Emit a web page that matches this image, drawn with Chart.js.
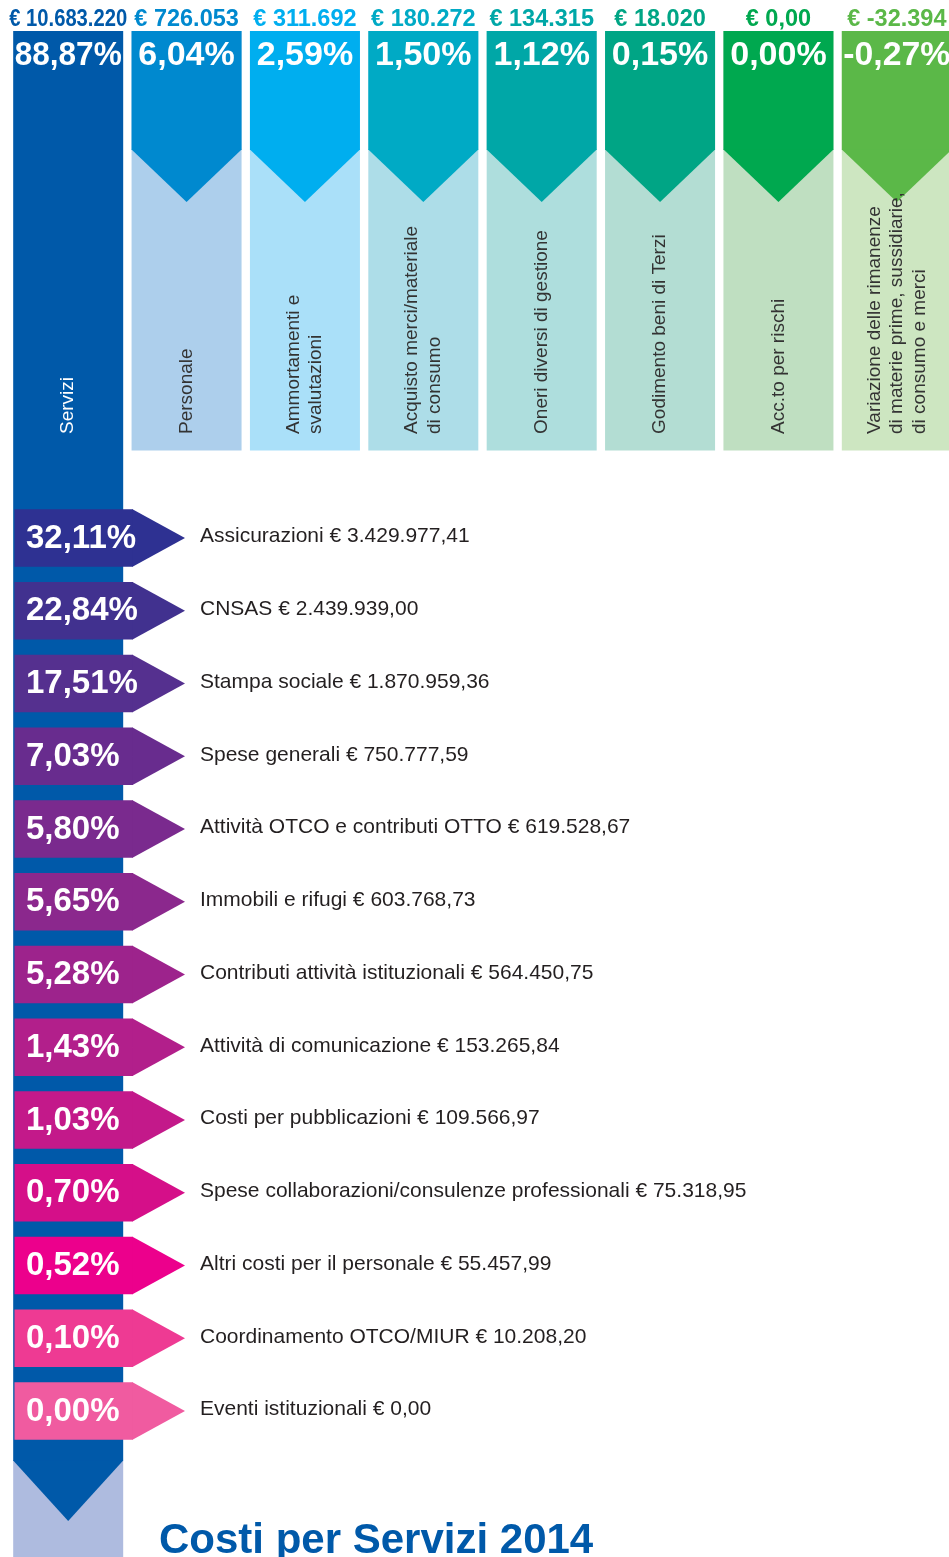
<!DOCTYPE html>
<html lang="it">
<head>
<meta charset="utf-8">
<title>Costi per Servizi 2014</title>
<script src="https://cdn.jsdelivr.net/npm/chart.js@4.4.1/dist/chart.umd.min.js"></script>
<style>
  html, body { margin: 0; padding: 0; background: #ffffff; }
  body { width: 949px; height: 1557px; overflow: hidden; position: relative; }
  #grafico { position: absolute; left: 0; top: 0; }
</style>
</head>
<body>
<canvas id="grafico" width="956" height="1557"></canvas>
<script>
// ---------- DATI ----------
const colonneEtichette = [
  "Servizi",
  "Personale",
  ["Ammortamenti e", "svalutazioni"],
  ["Acquisto merci/materiale", "di consumo"],
  "Oneri diversi di gestione",
  "Godimento beni di Terzi",
  "Acc.to per rischi",
  ["Variazione delle rimanenze", "di materie prime, sussidiarie,", "di consumo e merci"]
];
const colonneImporti = [10683220, 726053, 311692, 180272, 134315, 18020, 0, -32394];
const colonnePercentuali = [88.87, 6.04, 2.59, 1.50, 1.12, 0.15, 0.00, -0.27];

const serviziVoci = [
  "Assicurazioni",
  "CNSAS",
  "Stampa sociale",
  "Spese generali",
  "Attività OTCO e contributi OTTO",
  "Immobili e rifugi",
  "Contributi attività istituzionali",
  "Attività di comunicazione",
  "Costi per pubblicazioni",
  "Spese collaborazioni/consulenze professionali",
  "Altri costi per il personale",
  "Coordinamento OTCO/MIUR",
  "Eventi istituzionali"
];
const serviziImporti = [3429977.41, 2439939.00, 1870959.36, 750777.59, 619528.67, 603768.73,
  564450.75, 153265.84, 109566.97, 75318.95, 55457.99, 10208.20, 0];
const serviziPercentuali = [32.11, 22.84, 17.51, 7.03, 5.80, 5.65, 5.28, 1.43, 1.03, 0.70, 0.52, 0.10, 0.00];

const titolo = "Costi per Servizi 2014";

// ---------- STILE ----------
const coloriScuri = ['#0059A9', '#0089CF', '#00AEEF', '#00AAC5', '#00A7A7', '#00A585', '#00A84F', '#5BB848'];
const coloriChiari = ['#AEBBDF', '#ADCFEC', '#AAE0F9', '#ADDDE8', '#AEDEDD', '#B3DDD3', '#BFDFC1', '#CDE6C1'];
const coloriFrecce = ['#2E3192', '#41318F', '#55308F', '#682C8E', '#7A2A8E', '#8B288D', '#9D238C',
  '#B21F8B', '#C3198A', '#D50F89', '#EC008C', '#EE3A93', '#F05BA0'];
const FONT = '"Liberation Sans", Arial, Helvetica, sans-serif';

// layout in scale units (rows on y, columns on x)
const L = {
  colTop: -6.969, headEnd: -5.333, topTip: -4.619, colBottom: -1.203,
  labelStart: -1.43, amountBase: -7.038, pctBase: -6.502,
  servDarkEnd: 12.687, servTip: 13.512, servBottom: 14.2, titleBase: 13.952,
  rowLabelOff: 0.062, arrowPctOff: 0.131,
  arrowLeft: -0.4535, arrowRect: 0.5475, arrowTip: 0.9868,
  arrowPctX: -0.3564, rowLabelX: 1.1135, titleX: 0.7672
};

function fmtNum(v, dec) {
  const s = Math.abs(v).toFixed(dec);
  let [int, frac] = s.split('.');
  int = int.replace(/\B(?=(\d{3})+(?!\d))/g, '.');
  return (v < 0 ? '-' : '') + int + (frac ? ',' + frac : '');
}
const fmtEuroTop = v => '€ ' + (v === 0 ? '0,00' : fmtNum(v, 0));
const fmtEuro = v => '€ ' + fmtNum(v, 2);
const fmtPct = v => fmtNum(v, 2) + '%';

const infografica = {
  id: 'infografica',
  afterDatasetsDraw(chart) {
    const ctx = chart.ctx;
    const yv = chart.scales.yv, xa = chart.scales.xa, yr = chart.scales.yr, xc = chart.scales.xc;
    const Y = v => yv.getPixelForValue(v);
    ctx.save();

    // chevrons of the columns
    const metaT = chart.getDatasetMeta(0);
    metaT.data.forEach((bar, i) => {
      const p = bar.getProps(['x', 'width'], true);
      const y0 = Y(i === 0 ? L.servDarkEnd : L.headEnd);
      const y1 = Y(i === 0 ? L.servTip : L.topTip);
      ctx.fillStyle = coloriScuri[i];
      ctx.beginPath();
      ctx.moveTo(p.x - p.width / 2, y0 - 0.5);
      ctx.lineTo(p.x + p.width / 2, y0 - 0.5);
      ctx.lineTo(p.x, y1);
      ctx.closePath();
      ctx.fill();
    });

    // column texts
    const etich = xc.getLabels();
    metaT.data.forEach((bar, i) => {
      const p = bar.getProps(['x', 'width'], true);
      ctx.textAlign = 'center';
      ctx.textBaseline = 'alphabetic';
      ctx.fillStyle = coloriScuri[i];
      ctx.font = 'bold 23.5px ' + FONT;
      ctx.fillText(fmtEuroTop(colonneImporti[i]), p.x, Y(L.amountBase), p.width + 8);
      ctx.fillStyle = '#ffffff';
      ctx.font = 'bold 34px ' + FONT;
      ctx.fillText(fmtPct(colonnePercentuali[i]), p.x, Y(L.pctBase), p.width - 3);

      const lines = Array.isArray(etich[i]) ? etich[i] : [etich[i]];
      ctx.font = '19px ' + FONT;
      ctx.fillStyle = i === 0 ? '#ffffff' : '#333333';
      ctx.textAlign = 'left';
      ctx.textBaseline = 'middle';
      const gap = 22.5;
      lines.forEach((ln, k) => {
        const cx = p.x + (k - (lines.length - 1) / 2) * gap;
        ctx.save();
        ctx.translate(cx, Y(L.labelStart));
        ctx.rotate(-Math.PI / 2);
        ctx.fillText(ln, 0, 0);
        ctx.restore();
      });
    });

    // arrow tips and texts
    const metaF = chart.getDatasetMeta(2);
    const voci = yr.getLabels();
    const step = Math.abs(yr.getPixelForValue(1) - yr.getPixelForValue(0));
    metaF.data.forEach((bar, i) => {
      const p = bar.getProps(['x', 'y', 'height'], true);
      ctx.fillStyle = coloriFrecce[i];
      ctx.beginPath();
      ctx.moveTo(p.x - 0.5, p.y - p.height / 2);
      ctx.lineTo(xa.getPixelForValue(L.arrowTip), p.y);
      ctx.lineTo(p.x - 0.5, p.y + p.height / 2);
      ctx.closePath();
      ctx.fill();

      ctx.textAlign = 'left';
      ctx.textBaseline = 'alphabetic';
      ctx.fillStyle = '#ffffff';
      ctx.font = 'bold 33px ' + FONT;
      ctx.fillText(fmtPct(serviziPercentuali[i]), xa.getPixelForValue(L.arrowPctX), p.y + L.arrowPctOff * step);
      ctx.fillStyle = '#231F20';
      ctx.font = '21px ' + FONT;
      ctx.fillText(voci[i] + ' ' + fmtEuro(serviziImporti[i]), xa.getPixelForValue(L.rowLabelX), p.y + L.rowLabelOff * step);
    });

    // title
    ctx.fillStyle = '#0059A9';
    ctx.font = 'bold 42px ' + FONT;
    ctx.textAlign = 'left';
    ctx.textBaseline = 'alphabetic';
    ctx.fillText(titolo, xa.getPixelForValue(L.titleX), Y(L.titleBase));
    ctx.restore();
  }
};

const barCommon = { borderWidth: 0, grouped: false, clip: false, categoryPercentage: 1 };

new Chart(document.getElementById('grafico'), {
  type: 'bar',
  data: {
    datasets: [
      Object.assign({
        label: 'testata', indexAxis: 'x', xAxisID: 'xc', yAxisID: 'yv', order: 0,
        data: colonnePercentuali.map((_, i) => i === 0 ? [L.colTop, L.servDarkEnd] : [L.colTop, L.headEnd]),
        backgroundColor: coloriScuri, barPercentage: 0.9293
      }, barCommon),
      Object.assign({
        label: 'sfondo', indexAxis: 'x', xAxisID: 'xc', yAxisID: 'yv', order: 1,
        data: colonnePercentuali.map((_, i) => i === 0 ? [L.servDarkEnd, L.servBottom] : [L.colTop, L.colBottom]),
        backgroundColor: coloriChiari, barPercentage: 0.9293
      }, barCommon),
      Object.assign({
        label: 'frecce', indexAxis: 'y', xAxisID: 'xa', yAxisID: 'yr', order: -1,
        data: serviziPercentuali.map(() => [L.arrowLeft, L.arrowRect]),
        backgroundColor: coloriFrecce, barPercentage: 0.789
      }, barCommon)
    ]
  },
  options: {
    responsive: false,
    animation: false,
    events: [],
    layout: { padding: { left: 9, right: 0, top: 501.6, bottom: 109.65 } },
    plugins: { legend: { display: false }, tooltip: { enabled: false }, title: { display: false } },
    scales: {
      xc: { type: 'category', axis: 'x', labels: colonneEtichette, offset: true, display: false },
      yv: { type: 'linear', axis: 'y', min: -0.5, max: 12.5, reverse: true, offset: false, grace: 0, display: false },
      xa: { type: 'linear', axis: 'x', min: -0.5, max: 7.5, offset: false, grace: 0, beginAtZero: false,
            grid: { offset: false }, display: false },
      yr: { type: 'category', axis: 'y', labels: serviziVoci, offset: true, display: false }
    }
  },
  plugins: [infografica]
});
</script>
</body>
</html>
